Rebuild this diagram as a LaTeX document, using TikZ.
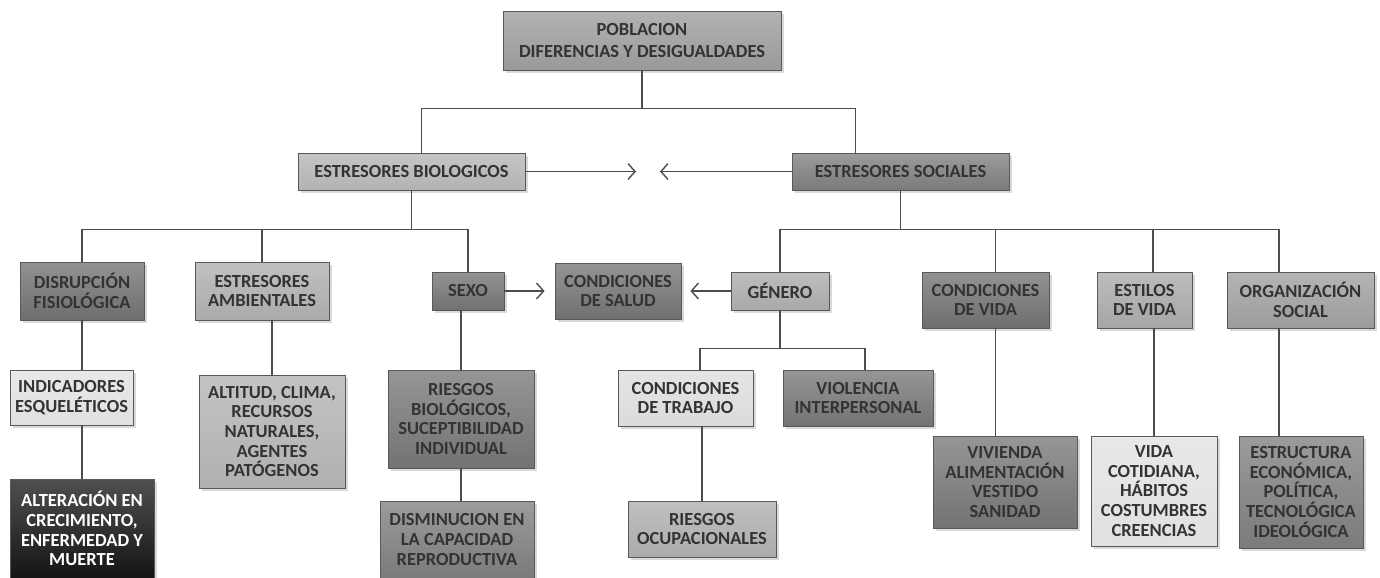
\documentclass[tikz,border=0pt]{standalone}
\usepackage{fontspec}
\setmainfont{Carlito}
\usetikzlibrary{arrows.meta,shadows}

\begin{document}
\begin{tikzpicture}[x=0.02cm,y=-0.02cm,
  box/.style={draw=black!65, line width=0.5pt, align=center, inner sep=1pt,
    font=\fontsize{10.5}{11.2}\selectfont\bfseries, text=black!80,
    top color=black!#1!white!75, bottom color=black!#1,
    drop shadow={opacity=0.3, shadow xshift=1.5pt, shadow yshift=-1.5pt}},
  wh/.style 2 args={minimum width=#1*0.02cm, minimum height=#2*0.02cm},
  link/.style={draw=black!70, line width=0.8pt},
  arr/.style={link, -{Straight Barb[length=4pt,width=9pt]}}]
 \useasboundingbox (0,0) rectangle (1380,578);

 % top levels
 \node[box=40, wh={278}{59}] (pob) at (642,40.5) {POBLACION\\[1.5pt]DIFERENCIAS Y DESIGUALDADES};
 \node[box=30, wh={227}{37}] (bio) at (411.5,171.5) {ESTRESORES BIOLOGICOS};
 \node[box=52, wh={217}{37}] (soc) at (900.5,171.5) {ESTRESORES SOCIALES};
 \node[box=57, wh={124}{58}] (dis) at (82,291) {DISRUPCIÓN\\FISIOLÓGICA};
 \node[box=33, wh={134}{58}] (amb) at (262,291) {ESTRESORES\\AMBIENTALES};
 \node[box=56, wh={72}{38}] (sexo) at (468,291) {SEXO};
 \node[box=56, wh={126}{56}] (salud) at (618,291) {CONDICIONES\\DE SALUD};
 \node[box=34, wh={98}{38}] (gen) at (780,291) {GÉNERO};
 \node[box=57, wh={127}{56}] (cvida) at (985.5,300) {CONDICIONES\\DE VIDA};
 \node[box=35, wh={95}{56}] (estilos) at (1144.5,300) {ESTILOS\\DE VIDA};
 \node[box=39, wh={147}{56}] (org) at (1300.5,300) {ORGANIZACIÓN\\SOCIAL};

 % lower levels
 \node[box=12, wh={123}{55}] (ind) at (71.5,397.5) {INDICADORES\\ESQUELÉTICOS};
 \node[box=92, wh={144}{99}, text=white] (alt) at (82,528.5) {ALTERACIÓN EN\\CRECIMIENTO,\\ENFERMEDAD Y\\MUERTE};
 \node[box=31, wh={146}{113}] (altitud) at (272,431.5) {ALTITUD, CLIMA,\\RECURSOS\\NATURALES,\\AGENTES\\PATÓGENOS};
 \node[box=55, wh={146}{98}] (rbio) at (461,419) {RIESGOS\\BIOLÓGICOS,\\SUCEPTIBILIDAD\\INDIVIDUAL};
 \node[box=52, wh={154}{77}] (dism) at (457,539.5) {DISMINUCION EN\\LA CAPACIDAD\\REPRODUCTIVA};
 \node[box=14, wh={135}{56}] (ctrab) at (685.5,398) {CONDICIONES\\DE TRABAJO};
 \node[box=55, wh={150}{56}] (viol) at (858,398) {VIOLENCIA\\INTERPERSONAL};
 \node[box=33, wh={148}{56}] (rocup) at (702,529) {RIESGOS\\OCUPACIONALES};
 \node[box=55, wh={144}{92}] (viv) at (1005,482) {VIVIENDA\\ALIMENTACIÓN\\VESTIDO\\SANIDAD};
 \node[box=12, wh={126}{110}] (vidac) at (1154,491) {VIDA\\COTIDIANA,\\HÁBITOS\\COSTUMBRES\\CREENCIAS};
 \node[box=52, wh={124}{112}] (estr) at (1301,492) {ESTRUCTURA\\ECONÓMICA,\\POLÍTICA,\\TECNOLÓGICA\\IDEOLÓGICA};

 % tree lines
 \draw[link] (pob.south) -- ++(0,38) coordinate (tp);
 \draw[link] ([xshift=0.2cm]bio.north) |- (tp) -| ([xshift=-0.9cm]soc.north);
 \draw[link] (bio.south) -- ++(0,39) coordinate (bp);
 \draw[link] (dis.north) |- (bp) -| (sexo.north);
 \draw[link] (amb.north) -- (amb.north |- bp);
 \draw[link] (soc.south) -- ++(0,39) coordinate (sp);
 \draw[link] (gen.north) |- (sp) -| ([xshift=-0.43cm]org.north);
 \draw[link] ([xshift=0.2cm]cvida.north) -- ([xshift=0.2cm]cvida.north |- sp);
 \draw[link] ([xshift=0.17cm]estilos.north) -- ([xshift=0.17cm]estilos.north |- sp);
 \draw[link] (gen.south) -- ++(0,38) coordinate (gp);
 \draw[link] ([xshift=0.29cm]ctrab.north) |- (gp) -| ([xshift=0.14cm]viol.north);

 \draw[link] (dis.south) -- (dis.south |- ind.north);
 \draw[link] (alt.north) -- (alt.north |- ind.south);
 \draw[link] (altitud.north) -- (altitud.north |- amb.south);
 \draw[link] (rbio.north) -- (rbio.north |- sexo.south);
 \draw[link] (rbio.south) -- (rbio.south |- dism.north);
 \draw[link] (rocup.north) -- (rocup.north |- ctrab.south);
 \draw[link] ([xshift=0.2cm]cvida.south) -- ([xshift=0.2cm]cvida.south |- viv.north);
 \draw[link] (vidac.north) -- (vidac.north |- estilos.south);
 \draw[link] ([xshift=-0.43cm]org.south) -- ([xshift=-0.43cm]org.south |- estr.north);

 % arrows
 \coordinate (ml) at (636,171.5);
 \coordinate (mr) at (660,171.5);
 \draw[arr] (bio) -- (ml);
 \draw[arr] (soc) -- (mr);
 \draw[arr, shorten >=0.2cm] (sexo) -- (salud);
 \draw[arr, shorten >=0.18cm] (gen) -- (salud);
\end{tikzpicture}
\end{document}
